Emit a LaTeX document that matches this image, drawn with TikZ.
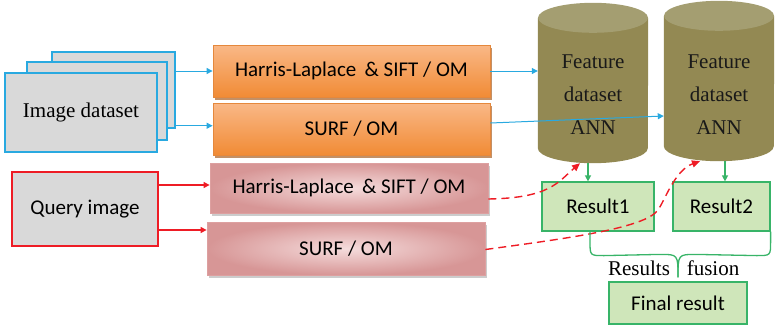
\documentclass[tikz,border=0pt]{standalone}
\usepackage{fontspec}
\setmainfont{Liberation Serif}
\newfontfamily\calib{Carlito}
\usetikzlibrary{arrows.meta,shadows,positioning}

\definecolor{linkblue}{HTML}{29A9E0}
\definecolor{stackgray}{HTML}{D9D9D9}
\definecolor{orgtop}{HTML}{F9B887}
\definecolor{orgbot}{HTML}{F18B35}
\definecolor{orgline}{HTML}{E5883C}
\definecolor{pinkin}{HTML}{F5DCDC}
\definecolor{pinkout}{HTML}{D79696}
\definecolor{pinkline}{HTML}{DDA0A0}
\definecolor{qred}{HTML}{EE1C25}
\definecolor{dbbody}{HTML}{938953}
\definecolor{dbtop}{HTML}{A49E71}
\definecolor{resfill}{HTML}{CFE6BA}
\definecolor{resline}{HTML}{38B468}

\tikzset{
  stackbox/.style={draw=linkblue, line width=1.5pt, fill=stackgray},
  orgbox/.style={draw=orgline, line width=0.8pt, top color=orgtop, bottom color=orgbot,
    drop shadow={shadow xshift=1.5pt, shadow yshift=-3pt, fill=orgbot!70!black, opacity=0.7},
    minimum width=277pt, font=\calib\fontsize{21}{24}\selectfont},
  pinkbox/.style={draw=pinkline, line width=0.8pt, inner color=pinkin, outer color=pinkout,
    drop shadow={shadow xshift=2pt, shadow yshift=-2.5pt, fill=gray, opacity=0.4},
    minimum width=278pt, font=\calib\fontsize{21}{24}\selectfont},
  resbox/.style={draw=resline, line width=1.2pt, fill=resfill, font=\calib\fontsize{21}{24}\selectfont},
  dbtext/.style={align=center, font=\fontsize{21}{33}\selectfont, text=black!90},
  bluelink/.style={linkblue, line width=1pt, -{Triangle[length=6pt,width=6pt]}},
  redlink/.style={qred, line width=1.2pt, -{Triangle[length=6pt,width=6pt]}},
  redfeed/.style={qred, line width=1.4pt, dash pattern=on 8pt off 5pt, -{Triangle[length=8pt,width=7pt]}},
  greenlink/.style={resline, line width=1.3pt, -{Triangle[length=6pt,width=6pt]}},
  bracepath/.style={resline, line width=1.3pt},
}

\begin{document}
\begin{tikzpicture}[x=1pt, y=-1pt]
\useasboundingbox (0,0) rectangle (779,327);

% image dataset, three stacked sheets
\node[stackbox, minimum width=123pt, minimum height=76pt] (b3) at (113.5,90) {};
\node[stackbox, minimum width=140pt, minimum height=78pt] (b2) at (97,101) {};
\node[stackbox, minimum width=152pt, minimum height=79pt, font=\fontsize{21}{24}\selectfont] (img) at (81,112.5) {Image dataset};

% query image
\node[draw=qred, line width=1.5pt, fill=stackgray, minimum width=146pt, minimum height=74pt,
  font=\calib\fontsize{21}{24}\selectfont] (qry) at (85,209) {Query image};

% descriptors
\node[orgbox, minimum height=52pt] (hs1) at (351.5,71) {Harris-Laplace \,\& SIFT / OM};
\node[orgbox, minimum height=52pt] (sf1) at (351.5,129) {SURF / OM};
\node[pinkbox, minimum height=50pt] (hs2) at (349,188) {Harris-Laplace \,\& SIFT / OM};
\node[pinkbox, minimum height=53pt] (sf2) at (346,248.5) {SURF / OM};

% feature databases
\node[minimum width=110pt, minimum height=130pt, inner sep=0pt] (db1) at (593,83) {};
\node[minimum width=110pt, minimum height=130pt, inner sep=0pt] (db2) at (719,81) {};
\fill[dbbody] (db1.north west) -- (db1.south west) arc[start angle=180, end angle=0, x radius=55, y radius=15] -- (db1.north east) -- cycle;
\fill[dbtop] (db1.north) ellipse[x radius=55, y radius=15];
\fill[dbbody] (db2.north west) -- (db2.south west) arc[start angle=180, end angle=0, x radius=55, y radius=15] -- (db2.north east) -- cycle;
\fill[dbtop] (db2.north) ellipse[x radius=55, y radius=15];
\node[dbtext] (db1t) at (593,95) {Feature\\dataset\\ANN};
\node[dbtext] (db2t) at (719,95) {Feature\\dataset\\ANN};

% results
\node[resbox, minimum width=112pt, minimum height=49pt] (res1) at (598,206.5) {Result1};
\node[resbox, minimum width=97pt, minimum height=49pt] (res2) at (721.5,206.5) {Result2};
\node[resbox, minimum width=138pt, minimum height=42pt] (fin) at (678,303) {Final result};

% dataset side
\draw[bluelink] (b3.east |- hs1.west) -- (hs1.west);
\draw[bluelink] ([yshift=3pt]b3.south east) -- ([yshift=3pt]b3.south east -| sf1.west);
\draw[bluelink] (hs1.east) -- (hs1.east -| db1.west);
\draw[bluelink] ([yshift=6pt]sf1.east) -- ([yshift=-35pt]db2.west);

% query side
\draw[redlink] ([yshift=24pt]qry.east) -- ([yshift=24pt]qry.east -| hs2.west);
\draw[redlink] ([yshift=-21pt]qry.east) -- ([yshift=-21pt]qry.east -| sf2.west);
\draw[redfeed] ([yshift=-11pt]hs2.east) .. controls (550,198) and (558,182) .. ([xshift=-13pt,yshift=-15pt]db1.south);
\draw[redfeed] ([yshift=-1pt]sf2.east) .. controls (570,238) and (645,228) .. (658,210)
  .. controls (665,200) and (675,170) .. ([xshift=-19pt,yshift=-15pt]db2.south);

% search results
\draw[greenlink] ([xshift=-5pt,yshift=-15pt]db1.south) -- ([xshift=-10pt]res1.north);
\draw[greenlink] ([xshift=6pt,yshift=-15pt]db2.south) -- ([xshift=3.5pt]res2.north);

% fusion brace
\coordinate (tip) at ([yshift=4pt]fin.north);
\coordinate (bar) at ([yshift=23pt]tip);
\draw[bracepath] ([xshift=-8pt]res1.south) -- ++(0,10) .. controls +(0,14) .. ++(14,14)
  -- ([xshift=-18pt]bar) .. controls (bar) .. (tip);
\draw[bracepath] (res2.south east) -- ++(0,10) .. controls +(0,14) .. ++(-14,14)
  -- ([xshift=18pt]bar) .. controls (bar) .. (tip);
\node[font=\fontsize{21}{24}\selectfont, inner sep=0pt] (lblres) at (639,268) {Results};
\node[font=\fontsize{21}{24}\selectfont, inner sep=0pt] (lblfus) at (713,268) {fusion};
\end{tikzpicture}
\end{document}
